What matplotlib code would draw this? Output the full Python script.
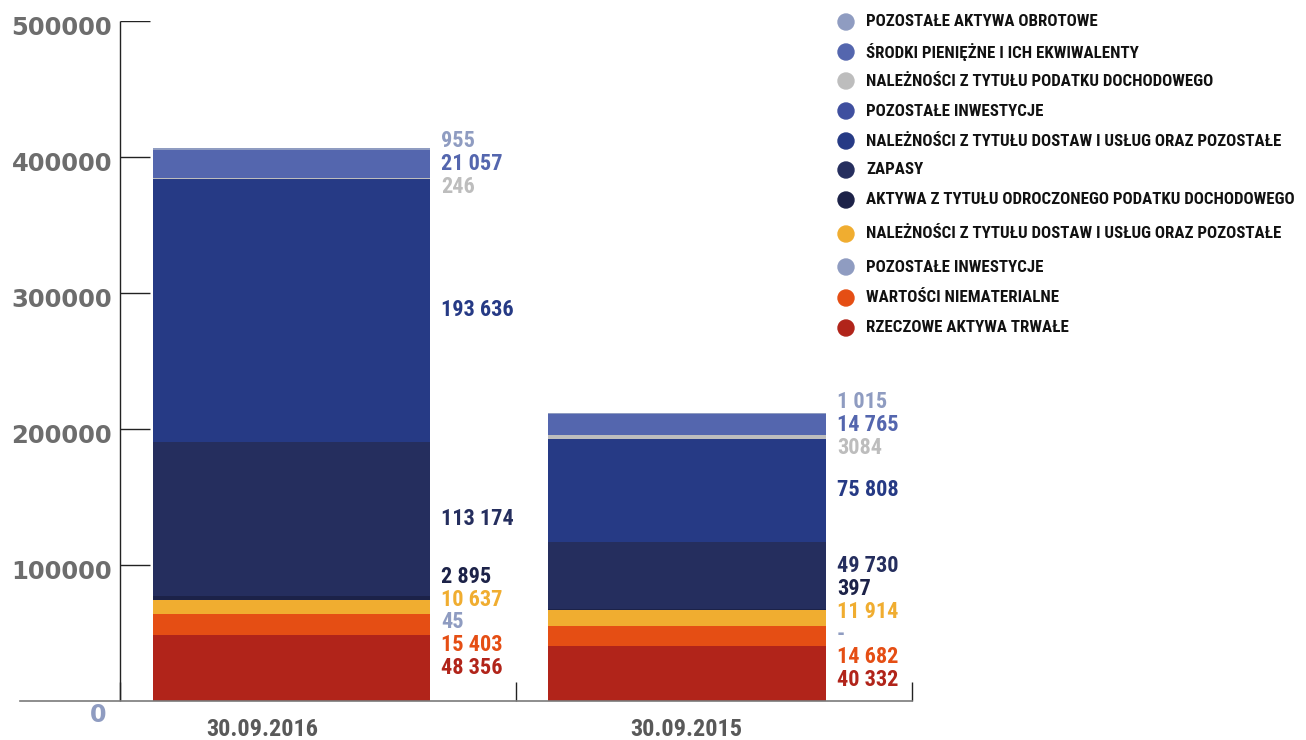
"""Struktura aktywów - wykres słupkowy skumulowany"""
import matplotlib
matplotlib.use("Agg")
import matplotlib.pyplot as plt
from matplotlib import font_manager
from matplotlib.patches import Ellipse

# data, bottom -> top
categories = ["30.09.2016", "30.09.2015"]
names = [
    "RZECZOWE AKTYWA TRWAŁE",
    "WARTOŚCI NIEMATERIALNE",
    "POZOSTAŁE INWESTYCJE",
    "NALEŻNOŚCI Z TYTUŁU DOSTAW I USŁUG ORAZ POZOSTAŁE",
    "AKTYWA Z TYTUŁU ODROCZONEGO PODATKU DOCHODOWEGO",
    "ZAPASY",
    "NALEŻNOŚCI Z TYTUŁU DOSTAW I USŁUG ORAZ POZOSTAŁE",
    "POZOSTAŁE INWESTYCJE",
    "NALEŻNOŚCI Z TYTUŁU PODATKU DOCHODOWEGO",
    "ŚRODKI PIENIĘŻNE I ICH EKWIWALENTY",
    "POZOSTAŁE AKTYWA OBROTOWE",
]
colors = ["#b1241a", "#e54e14", "#8f9cc1", "#f0ad30", "#1c2248", "#252e5e",
          "#263a85", "#3f4f9f", "#bdbdbd", "#5466ae", "#8f9cc1"]
values_2016 = [48356, 15403, 45, 10637, 2895, 113174, 193636, 0, 246, 21057, 955]
values_2015 = [40332, 14682, 0, 11914, 397, 49730, 75808, 0, 3084, 14765, 1015]
labels_2016 = ["48 356", "15 403", "45", "10 637", "2 895", "113 174", "193 636", None, "246", "21 057", "955"]
labels_2015 = ["40 332", "14 682", "-", "11 914", "397", "49 730", "75 808", None, "3084", "14 765", "1 015"]

installed = {f.name for f in font_manager.fontManager.ttflist}
COND = [f for f in ["Liberation Sans Narrow", "Roboto Condensed", "Open Sans Condensed"] if f in installed] + ["Liberation Sans", "DejaVu Sans"]


def spread(pos, gap, iters=500):
    pos = list(pos)
    for _ in range(iters):
        moved = False
        for i in range(len(pos) - 1):
            d = pos[i + 1] - pos[i]
            if d < gap - 1:
                s = (gap - d) / 2
                pos[i] -= s
                pos[i + 1] += s
                moved = True
        if not moved:
            break
    return pos


def main():
    fig = plt.figure(figsize=(13.06, 7.40), dpi=100)
    ax = fig.add_axes([20 / 1306, 39 / 740, 892 / 1306, 680 / 740])
    xs = [0.433, 1.432]
    width = 0.70
    ax.set_xlim(-0.2525, 2)
    ax.set_ylim(0, 500000)

    for xi, vals, labs in [(xs[0], values_2016, labels_2016), (xs[1], values_2015, labels_2015)]:
        bottom = 0
        mids, texts, cols = [], [], []
        for v, c, lab in zip(vals, colors, labs):
            ax.bar(xi, v, width, bottom=bottom, color=c, linewidth=0)
            if lab is not None:
                mids.append(bottom + v / 2)
                texts.append(lab)
                cols.append(c)
            bottom += v
        ys = spread(mids, 16800)
        for y, t, c in zip(ys, texts, cols):
            ax.text(xi + width / 2 + 0.028, y, t, color=c, fontsize=16, fontweight="bold",
                    family=COND, ha="left", va="center")

    # axes styling
    for s in ["left", "right", "top"]:
        ax.spines[s].set_visible(False)
    ax.spines["bottom"].set_color("#7a7a7a")
    ax.spines["bottom"].set_linewidth(1.2)
    ax.vlines(0, 0, 500000, color="#222222", linewidth=1)
    yt = [100000, 200000, 300000, 400000, 500000]
    ax.hlines(yt, 0, 0.076, color="#222222", linewidth=1)
    ax.set_yticks([])
    ax.set_xticks([0, 1, 2])
    ax.set_xticklabels([])
    ax.tick_params(axis="x", direction="in", length=14, color="#222222", width=1)
    for t in yt:
        ax.text(-0.02, t - 5500, str(t), ha="right", va="center", fontsize=17.5,
                fontweight="bold", color="#6d6d6d", family="DejaVu Sans")
    ax.text(-0.035, -10000, "0", ha="right", va="center", fontsize=17,
            fontweight="bold", color="#8f9cc1", family="DejaVu Sans")
    ax.text(0.36, -21000, categories[0], ha="center", va="center", fontsize=17.5,
            fontweight="bold", color="#595959", family=COND)
    ax.text(1.43, -21000, categories[1], ha="center", va="center", fontsize=17.5,
            fontweight="bold", color="#595959", family=COND)

    # legend (top -> bottom)
    rows = [22, 52, 81, 111, 141, 170, 200, 234, 267, 298, 328]
    for py, n, c in zip(rows, names[::-1], colors[::-1]):
        fig.patches.append(Ellipse((846 / 1306, 1 - py / 740), 16 / 1306, 16 / 740,
                                   transform=fig.transFigure, color=c, figure=fig))
        fig.text(866 / 1306, 1 - py / 740, n, ha="left", va="center", fontsize=12.2,
                 fontweight="bold", color="#111111", family=COND)

    fig.savefig("out.png", dpi=100)


main()
